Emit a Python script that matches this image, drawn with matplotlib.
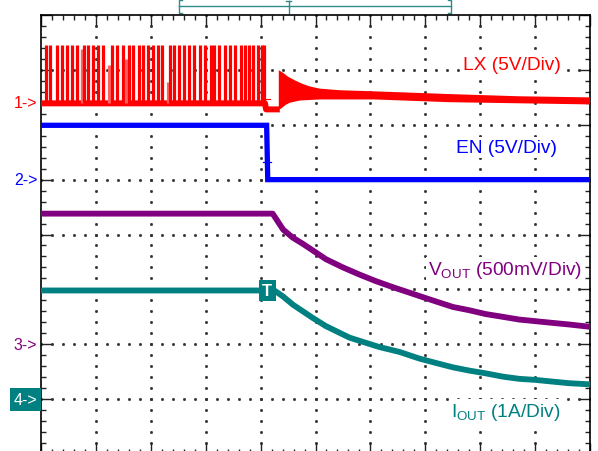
import numpy as np
import matplotlib
matplotlib.use('Agg')
import matplotlib.pyplot as plt

plt.rcParams['font.family'] = ['Liberation Sans', 'DejaVu Sans']
plt.rcParams['mathtext.default'] = 'regular'

RED = '#ff0000'
BLUE = '#0000ff'
PURPLE = '#800080'
TEAL = '#008080'

# everything is in screen divisions: 10 across, 8 down (centre = 0)
ch_names = ['1->', '2->', '3->', '4->']
ch_levels = [2.4, 1.0, -2.0, -3.0]
ch_colors = [RED, BLUE, PURPLE, TEAL]

# LX (ch1) switching node while enabled
lx_low = 2.39
pulse_t = [0.09, 0.16, 0.29, 0.38, 0.47, 0.56, 0.65, 0.74, 0.78, 0.86, 0.95,
           1.04, 1.13, 1.24, 1.30, 1.39, 1.49, 1.55, 1.60, 1.68, 1.78, 1.86,
           1.95, 2.04, 2.13, 2.21, 2.31, 2.35, 2.42, 2.51, 2.61, 2.70, 2.79,
           2.89, 2.99, 3.09, 3.16, 3.25, 3.35, 3.44, 3.54, 3.64, 3.71, 3.79,
           3.87, 3.95, 4.03, 4.07]
pulse_top = [3.45, 3.45, 3.45, 3.45, 3.45, 3.45, 3.45, 3.38, 3.45, 3.45, 3.45,
             3.45, 3.45, 3.08, 3.45, 3.45, 3.45, 3.20, 3.45, 3.45, 3.45, 3.45,
             3.45, 3.45, 3.45, 3.45, 2.78, 3.45, 3.45, 3.45, 3.45, 3.45, 3.45,
             3.45, 3.45, 3.45, 3.45, 3.45, 3.45, 3.45, 3.45, 3.45, 3.45, 3.45,
             3.45, 3.45, 3.45, 3.45]

# LX after disable: short dip, then ringing that settles
lx_dip_t = [0.0, 4.08, 4.10, 4.35]
lx_dip_v = [2.39, 2.39, 2.28, 2.28]
ring_up_t = [4.35, 4.40, 4.49, 4.62, 4.75, 4.89, 5.07, 5.44, 6.07, 7.44, 8.71, 9.98]
ring_up_v = [2.96, 2.93, 2.86, 2.79, 2.73, 2.68, 2.64, 2.61, 2.59, 2.54, 2.50, 2.48]
ring_lo_t = [4.35, 4.45, 4.53, 4.71, 5.07, 6.07, 7.44, 8.71, 9.98]
ring_lo_v = [2.30, 2.38, 2.42, 2.46, 2.48, 2.48, 2.43, 2.41, 2.39]

# EN (ch2)
en_t = [0.0, 4.11, 4.13, 10.0]
en_v = [1.99, 1.99, 1.00, 1.00]

# VOUT (ch3)
vout_t = [0.0, 4.22, 4.41, 4.59, 4.77, 4.95, 5.19, 5.50, 5.80, 6.10, 6.41,
          6.71, 7.01, 7.50, 7.80, 8.10, 8.41, 8.71, 9.01, 9.31, 9.62, 9.98]
vout_v = [0.38, 0.38, 0.09, -0.06, -0.17, -0.29, -0.45, -0.60, -0.73, -0.85,
          -0.96, -1.06, -1.16, -1.32, -1.38, -1.45, -1.50, -1.55, -1.58, -1.61,
          -1.64, -1.68]

# IOUT (ch4)
iout_t = [0.0, 4.25, 4.41, 4.59, 4.77, 4.95, 5.19, 5.62, 6.16, 6.53, 6.89,
          7.19, 7.50, 7.80, 8.10, 8.41, 8.71, 9.01, 9.31, 9.62, 9.98]
iout_v = [-1.02, -1.02, -1.13, -1.28, -1.40, -1.52, -1.67, -1.88, -2.05, -2.14,
          -2.26, -2.34, -2.42, -2.48, -2.53, -2.59, -2.63, -2.65, -2.68, -2.71,
          -2.73]

fig = plt.figure(figsize=(5.98, 4.52), dpi=100)
ax = fig.add_axes([41 / 598, -3 / 452, 549 / 598, 439 / 452])
ax.set_xlim(0, 10)
ax.set_ylim(-4, 4)

# dotted graticule
dot_kw = dict(ls='none', marker='s', ms=1.0, color='#333333', zorder=1)
minor = np.arange(0, 10.01, 0.2)
minor_y = np.arange(-4, 4.01, 0.2)
for gx in range(1, 10):
    ax.plot(np.full(len(minor_y), gx), minor_y, **dot_kw)
for gy in range(-3, 4):
    ax.plot(minor, np.full(len(minor), gy), **dot_kw)

ax.set_xticks(range(11))
ax.set_yticks(range(-4, 5))
ax.set_xticks(minor, minor=True)
ax.set_yticks(minor_y, minor=True)
ax.tick_params(which='both', direction='in', top=True, right=True,
               labelbottom=False, labelleft=False, color='#222222', width=1.0)
ax.tick_params(which='major', length=8)
ax.tick_params(which='minor', length=3.5)
for sp in ax.spines.values():
    sp.set_linewidth(1.2)

# LX
ax.plot(lx_dip_t, lx_dip_v, color=RED, lw=4.3, solid_capstyle='butt', zorder=3)
for t, top in zip(pulse_t, pulse_top):
    c = RED if top > 3.4 else '#ff6060'
    ax.plot([t, t], [lx_low, top], color=c, lw=2.3, solid_capstyle='butt', zorder=3)
ax.plot([4.0, 4.18], [2.47, 2.47], color=RED, lw=0.8, zorder=3)
ring_t = ring_up_t + ring_lo_t[::-1]
ring_v = ring_up_v + ring_lo_v[::-1]
ax.fill(ring_t, ring_v, color=RED, lw=1.5, ec=RED, zorder=3)

# EN
ax.plot(en_t, en_v, color=BLUE, lw=3.8, solid_joinstyle='miter', zorder=3)
ax.plot([4.05, 4.19], [1.32, 1.32], color=BLUE, lw=0.9, zorder=3)

# VOUT / IOUT
ax.plot(vout_t, vout_v, color=PURPLE, lw=4.2, zorder=3)
ax.plot(iout_t, iout_v, color=TEAL, lw=4.2, zorder=3)
ax.text(4.12, -1.02, 'T', color='white', fontsize=12, fontweight='bold',
        ha='center', va='center', zorder=5,
        bbox=dict(boxstyle='square,pad=0.2', fc=TEAL, ec='none'))

# channel labels
lab_kw = dict(fontsize=13.8, ha='right', va='center', zorder=4,
              bbox=dict(boxstyle='square,pad=0.1', fc='white', ec='none'))
ax.text(9.47, 3.10, 'LX (5V/Div)', color=RED, **lab_kw)
ax.text(9.40, 1.59, 'EN (5V/Div)', color=BLUE, **lab_kw)
ax.text(9.85, -0.64, 'V$_{OUT}$ (500mV/Div)', color=PURPLE, **lab_kw)
ax.text(9.47, -3.23, 'I$_{OUT}$ (1A/Div)', color=TEAL, **lab_kw)

# ground markers on the left edge
for name, lvl, c in zip(ch_names, ch_levels, ch_colors):
    if name == '4->':
        ax.text(-0.07, lvl, name, color='white', fontsize=11.5, ha='right',
                va='center', clip_on=False,
                bbox=dict(boxstyle='square,pad=0.25', fc=TEAL, ec='none'))
    else:
        ax.text(-0.07, lvl, name, color=c, fontsize=11.5, ha='right',
                va='center', clip_on=False)

# record position bar above the screen
bar_c = '#2e8b8b'
bar_kw = dict(color=bar_c, lw=1.0, clip_on=False)
ax.plot([2.51, 7.47], [4.16, 4.16], **bar_kw)
ax.plot([2.56, 2.51, 2.51, 2.56], [4.27, 4.27, 4.04, 4.04], **bar_kw)
ax.plot([7.42, 7.47, 7.47, 7.42], [4.27, 4.27, 4.04, 4.04], **bar_kw)
ax.plot([4.51, 4.51], [4.04, 4.25], **bar_kw)
ax.plot([4.46, 4.56], [4.25, 4.25], **bar_kw)

fig.savefig('out.png', dpi=100)
